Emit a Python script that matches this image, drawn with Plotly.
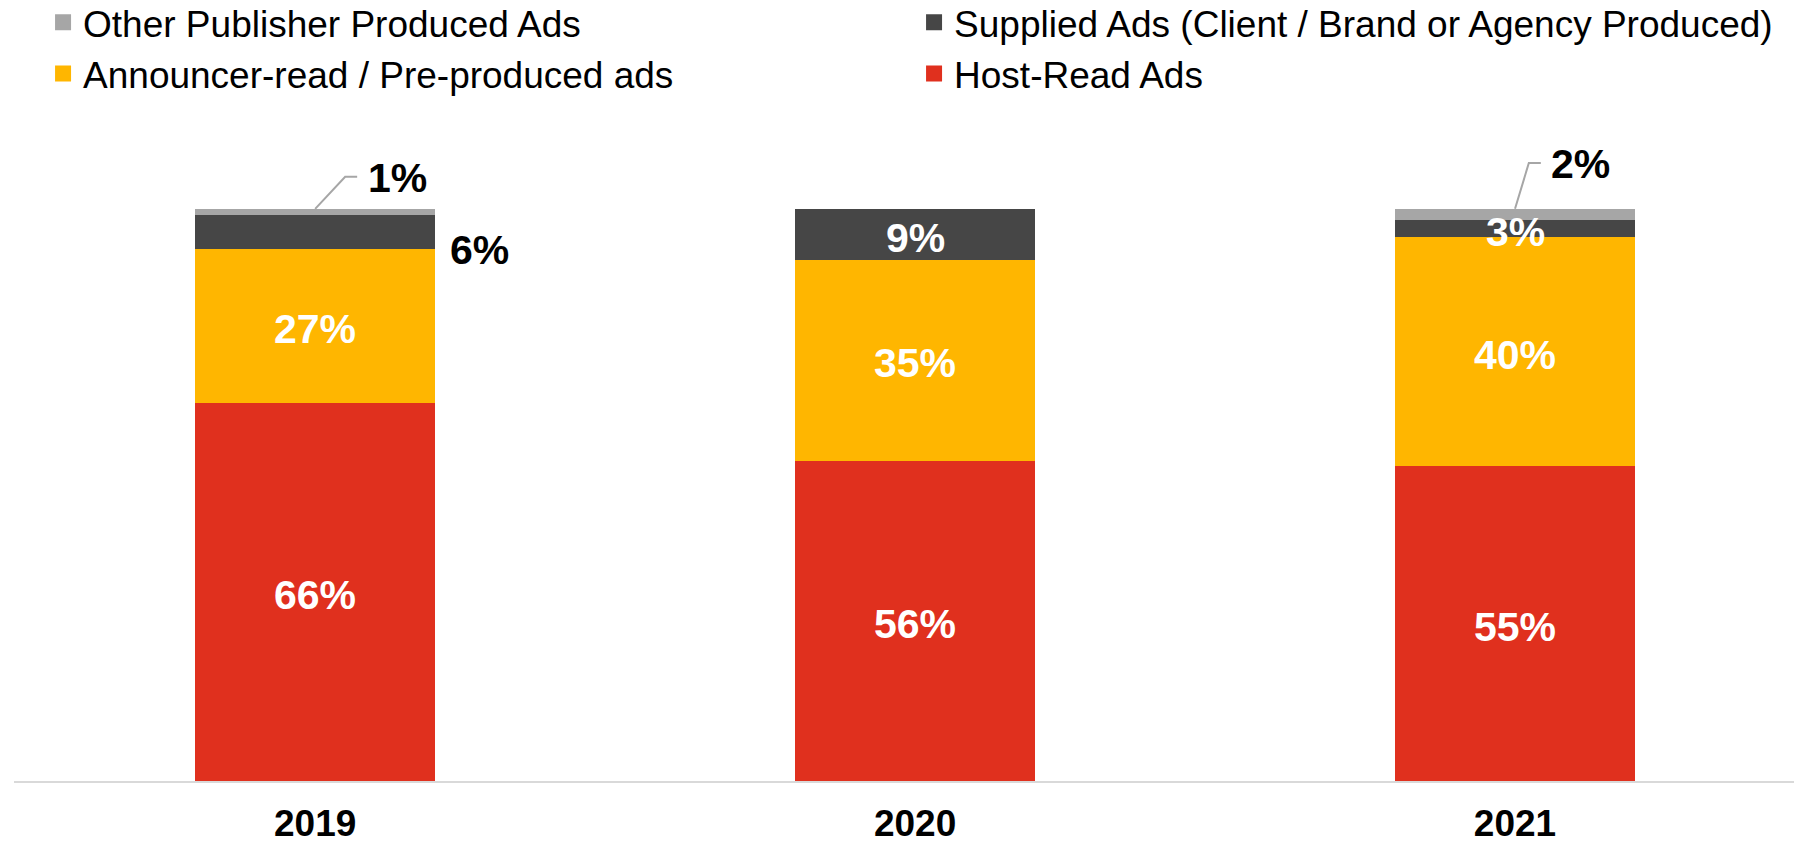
import plotly.graph_objects as go
import numpy as np

# Ad format share by year (percent)
years = ["2019", "2020", "2021"]
host_read = [66, 56, 55]
announcer = [27, 35, 40]
supplied = [6, 9, 3]
other_pub = [1, 0, 2]

series = [
    ("Host-Read Ads", host_read, "#E0301E"),
    ("Announcer-read / Pre-produced ads", announcer, "#FFB600"),
    ("Supplied Ads (Client / Brand or Agency Produced)", supplied, "#464646"),
    ("Other Publisher Produced Ads", other_pub, "#A6A6A6"),
]

FONT = "Arial, Liberation Sans, sans-serif"
Y_MAX = 115  # headroom above 100% for the leader-line labels
PX_PER_UNIT = 5.72
BOTTOM = 62
top_margin = 209 - (Y_MAX - 100) * PX_PER_UNIT
plot_h = 843 - BOTTOM - top_margin

fig = go.Figure()

# stacked bars (no legend entries; legend is built from square markers below)
for name, vals, color in series:
    fig.add_trace(go.Bar(
        x=years, y=vals, name=name, marker=dict(color=color, line=dict(width=0)),
        width=0.4, showlegend=False, hoverinfo="name+y",
    ))

# legend entries with larger square swatches
for name, vals, color in series:
    fig.add_trace(go.Scatter(
        x=[None], y=[None], mode="markers", name=name,
        marker=dict(symbol="square", size=16, color=color),
    ))

# value labels
annotations = []
stack = np.array([host_read, announcer, supplied, other_pub], dtype=float)
cum = np.cumsum(stack, axis=0)
for s_idx, (name, vals, color) in enumerate(series):
    if s_idx == 3:
        continue  # thin top segments get leader lines below
    for i, v in enumerate(vals):
        if v == 0:
            continue
        mid = cum[s_idx, i] - v / 2.0
        if s_idx == 2 and i == 0:
            # outside, right of the bar
            annotations.append(dict(
                x=i + 0.222, y=mid - 3.2, xref="x", yref="y", text=f"{v}%",
                showarrow=False, xanchor="left", yanchor="middle",
                font=dict(family=FONT, size=41, color="#000000", weight="bold"),
            ))
            continue
        annotations.append(dict(
            x=i, y=mid, xref="x", yref="y", text=f"{v}%", showarrow=False,
            xanchor="center", yanchor="middle", yshift=-3,
            font=dict(family=FONT, size=41, color="#FFFFFF", weight="bold"),
        ))

# leader-line labels for the thin top segments
shapes = []
leader = {0: (0.05, 0.07, 5.6, 0.085), 2: (0.023, 0.043, 8.0, 0.057)}
for i, v in enumerate(other_pub):
    if v == 0:
        continue
    top = cum[3, i]
    dx1, dx2, dy, tx = leader[i]
    shapes.append(dict(
        type="path", xref="x", yref="y",
        path=f"M {i},{top} L {i + dx1},{top + dy} L {i + dx2},{top + dy}",
        line=dict(color="#A6A6A6", width=2),
    ))
    annotations.append(dict(
        x=i + tx, y=top + dy, xref="x", yref="y", text=f"{v}%",
        showarrow=False, xanchor="left", yanchor="middle", yshift=-1,
        font=dict(family=FONT, size=41, color="#000000", weight="bold"),
    ))

fig.update_layout(
    barmode="stack",
    width=1794, height=843,
    margin=dict(l=14, r=0, t=top_margin, b=BOTTOM, autoexpand=False),
    paper_bgcolor="white", plot_bgcolor="white",
    font=dict(family=FONT, color="#000000"),
    annotations=annotations,
    shapes=shapes,
    showlegend=True,
    legend=dict(
        orientation="h", traceorder="reversed",
        xref="container", yref="paper",
        x=0.024, y=1 + (top_margin + 8) / plot_h, xanchor="left", yanchor="top",
        entrywidth=826, entrywidthmode="pixels",
        font=dict(family=FONT, size=37, color="#000000"),
        itemclick=False, itemdoubleclick=False,
        bgcolor="rgba(0,0,0,0)",
    ),
    xaxis=dict(
        type="category", range=[-0.502, 2.465],
        showline=True, linecolor="#D9D9D9", linewidth=2,
        showgrid=False, zeroline=False, ticks="",
        tickfont=dict(family=FONT, size=37, color="#000000", weight="bold"),
        ticklabelstandoff=9, automargin=False,
        fixedrange=True,
    ),
    yaxis=dict(range=[0, Y_MAX], visible=False, fixedrange=True, automargin=False),
)

fig.write_html("out.html")
